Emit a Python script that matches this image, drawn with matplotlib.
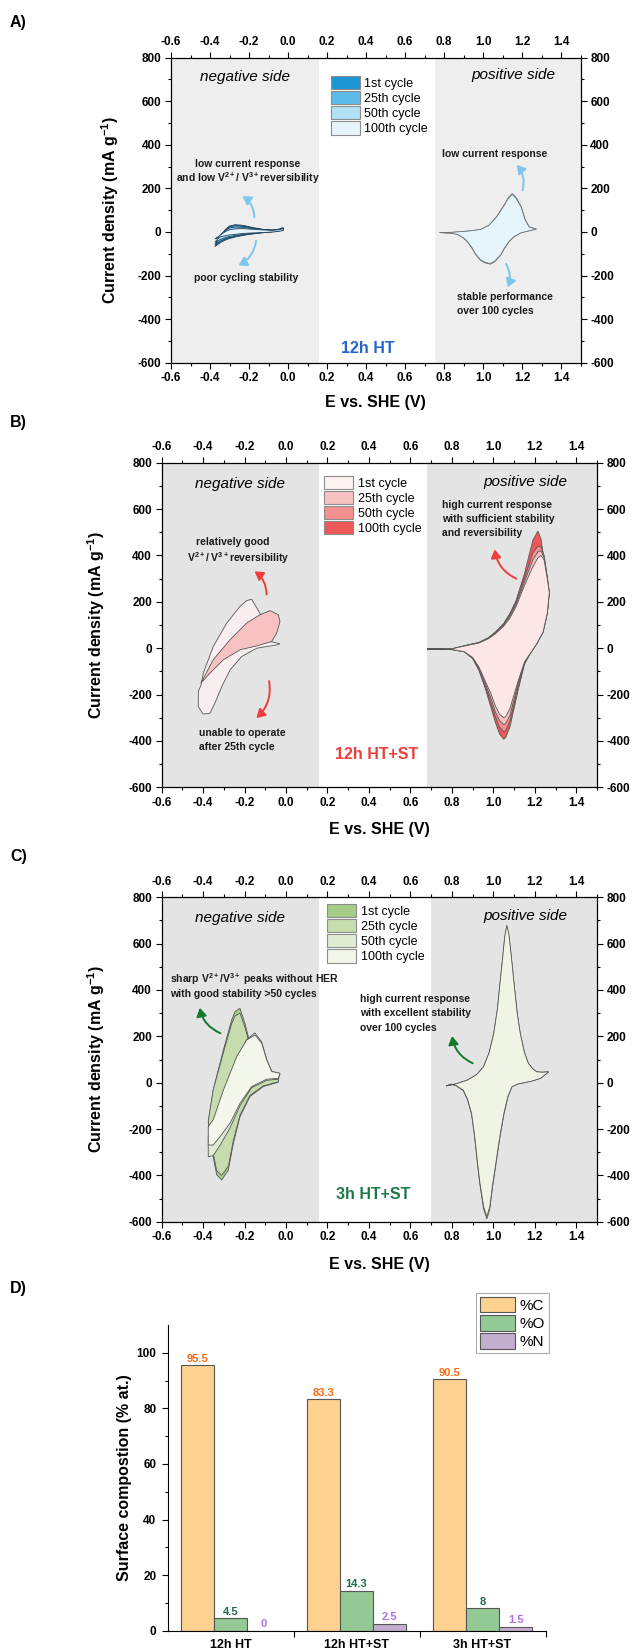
import numpy as np
import matplotlib
matplotlib.use("Agg")
import matplotlib.pyplot as plt
from matplotlib.patches import Patch, FancyArrowPatch
from matplotlib.ticker import FormatStrFormatter

plt.rcParams['font.family'] = ['Liberation Sans', 'DejaVu Sans']
plt.rcParams['font.weight'] = 'bold'
plt.rcParams['axes.labelweight'] = 'bold'
plt.rcParams['axes.unicode_minus'] = False
plt.rcParams['mathtext.fontset'] = 'custom'
plt.rcParams['mathtext.rm'] = 'Liberation Sans'
plt.rcParams['mathtext.bf'] = 'Liberation Sans:bold'
plt.rcParams['mathtext.it'] = 'Liberation Sans:italic'

# ---- data -----------------------------------------------------------
cycles = ['1st cycle', '25th cycle', '50th cycle', '100th cycle']

# A) 12h HT
a_neg_v = [-0.375, -0.36, -0.34, -0.32, -0.30, -0.27, -0.23, -0.18, -0.13, -0.08, -0.045, -0.025,
           -0.025, -0.06, -0.11, -0.16, -0.21, -0.26, -0.31, -0.345, -0.375]
a_neg_i_1 = [-67, -45, -12, 12, 27, 33, 30, 20, 12, 9, 13, 20, 10, 3, -2, -7, -13, -21, -33, -48, -67]
a_neg_i_25 = [-58, -40, -10, 10, 23, 29, 26, 18, 11, 8, 12, 18, 9, 3, -2, -6, -11, -18, -28, -42, -58]
a_neg_i_50 = [-48, -32, -8, 7, 18, 22, 21, 15, 10, 7, 11, 17, 8, 2, -2, -5, -9, -15, -23, -34, -48]
a_neg_i_100 = [-32, -24, -10, 2, 10, 14, 15, 12, 9, 7, 10, 15, 6, 1, -2, -4, -6, -10, -15, -22, -32]

a_pos_v = [0.777, 0.84, 0.90, 0.95, 0.99, 1.03, 1.07, 1.11, 1.13, 1.15, 1.17, 1.195, 1.216, 1.237, 1.274,
           1.24, 1.195, 1.16, 1.133, 1.11, 1.09, 1.06, 1.038, 1.01, 0.986, 0.96, 0.944, 0.92, 0.90,
           0.87, 0.84, 0.777]
a_pos_i_1 = [-3, -2, 2, 6, 12, 30, 70, 125, 157, 176, 157, 118, 57, 23, 13, 6, -4, -22, -45, -76, -108,
             -137, -148, -142, -130, -101, -75, -45, -28, -12, -6, -3]
a_pos_i_100 = [-3, -2, 2, 6, 12, 30, 69, 123, 154, 172, 153, 115, 55, 22, 13, 6, -4, -21, -44, -74, -106,
               -134, -145, -139, -127, -99, -73, -44, -27, -12, -6, -3]

# B) 12h HT+ST
b_neg_v_1 = [-0.029, -0.045, -0.141, -0.214, -0.27, -0.31, -0.343, -0.367, -0.40, -0.423, -0.423, -0.41,
             -0.399, -0.351, -0.286, -0.222, -0.19, -0.166, -0.126, -0.101, -0.077, -0.029]
b_neg_i_1 = [19, 14, 0, -36, -94, -166, -237, -281, -284, -252, -187, -160, -108, 7, 108, 180, 205, 211,
             151, 65, 29, 19]
b_neg_v_25 = [-0.411, -0.351, -0.27, -0.19, -0.126, -0.077, -0.037, -0.029, -0.045, -0.069, -0.141,
              -0.222, -0.302, -0.367, -0.411]
b_neg_i_25 = [-151, -50, 36, 108, 144, 162, 144, 115, 65, 29, 10, -7, -50, -108, -151]

b_pos_v = [0.68, 0.80, 0.875, 0.93, 0.975, 1.01, 1.05, 1.08, 1.11, 1.15, 1.19, 1.215, 1.23, 1.245, 1.26, 1.27,
           1.26, 1.24, 1.21, 1.18, 1.15, 1.12, 1.10, 1.08, 1.06, 1.05, 1.03, 1.01, 0.99, 0.96, 0.93, 0.90,
           0.86, 0.80, 0.74, 0.68]
b_pos_i_1 = [-4, -3, 12, 22, 40, 62, 95, 130, 180, 270, 350, 390, 400, 380, 300, 240,
             150, 70, 20, -20, -60, -140, -200, -260, -295, -300, -285, -250, -200, -140, -80, -40,
             -15, -6, -4, -4]
b_pos_i_25 = [-4, -3, 13, 23, 42, 65, 100, 138, 190, 285, 380, 415, 420, 390, 305, 240,
              150, 70, 20, -20, -62, -150, -220, -290, -325, -330, -312, -275, -220, -150, -85, -42,
              -15, -6, -4, -4]
b_pos_i_50 = [-4, -3, 13, 24, 43, 67, 103, 143, 198, 300, 410, 440, 435, 400, 310, 240,
              150, 70, 20, -20, -65, -165, -240, -315, -355, -360, -340, -295, -240, -160, -90, -43,
              -15, -6, -4, -4]
b_pos_i_100 = [-4, -3, 14, 25, 45, 70, 107, 150, 207, 321, 464, 505, 470, 380, 290, 240,
               150, 70, 20, -20, -70, -180, -260, -340, -385, -393, -370, -320, -260, -170, -95, -45,
               -15, -6, -4, -4]

# C) 3h HT+ST
c_neg_v_1 = [-0.222, -0.198, -0.182, -0.15, -0.126, -0.08, -0.037, -0.037, -0.11, -0.174, -0.222, -0.254,
             -0.278, -0.31, -0.334, -0.358, -0.375, -0.351, -0.302, -0.262, -0.246, -0.222]
c_neg_i_1 = [321, 256, 199, 90, 40, 18, 12, 2, -17, -60, -147, -262, -377, -420, -398, -290, -175, -32,
             141, 271, 306, 321]
c_neg_i_25 = [300, 240, 185, 85, 38, 17, 14, 4, -14, -55, -140, -250, -360, -400, -380, -275, -165, -30,
              130, 255, 288, 300]
c_neg_v_100 = [-0.15, -0.117, -0.093, -0.069, -0.029, -0.037, -0.093, -0.166, -0.222, -0.27, -0.318,
               -0.351, -0.375, -0.375, -0.351, -0.302, -0.238, -0.19, -0.15]
c_neg_i_50 = [215, 175, 100, 50, 38, 15, 10, -22, -100, -195, -270, -315, -320, -230, -190, -50, 105, 185, 215]
c_neg_i_100 = [206, 170, 98, 48, 41, 19, 15, -17, -89, -175, -233, -269, -269, -190, -160, -32, 112, 184, 206]

c_pos_v = [0.773, 0.82, 0.875, 0.92, 0.953, 0.98, 1.002, 1.02, 1.032, 1.045, 1.055, 1.065, 1.075, 1.085,
           1.10, 1.115, 1.13, 1.15, 1.169, 1.19, 1.208, 1.235, 1.267,
           1.228, 1.19, 1.15, 1.12, 1.09, 1.07, 1.051, 1.03, 1.012, 0.995, 0.983, 0.969, 0.953, 0.935,
           0.924, 0.91, 0.895, 0.875, 0.855, 0.82, 0.797, 0.773]
c_pos_i_1 = [-14, -5, 11, 35, 69, 130, 212, 318, 425, 535, 625, 672, 632, 555, 425, 298, 210, 130, 83, 60,
             47, 45, 47, 19, 8, 0, -5, -17, -62, -136, -245, -355, -458, -545, -588, -545, -438,
             -355, -235, -136, -72, -34, -13, -7, -14]
c_pos_i_100 = [-14, -5, 11, 35, 69, 130, 212, 320, 428, 540, 630, 680, 640, 560, 428, 300, 212, 130, 83,
               60, 47, 45, 47, 19, 8, 0, -5, -17, -60, -132, -240, -348, -450, -535, -578, -535, -430,
               -348, -230, -132, -70, -32, -12, -6, -14]

# D) surface composition
samples = ['12h HT', '12h HT+ST', '3h HT+ST']
pct_c = [95.5, 83.3, 90.5]
pct_o = [4.5, 14.3, 8]
pct_n = [0, 2.5, 1.5]

# ---- figure ---------------------------------------------------------
W, H = 638, 1652
fig = plt.figure(figsize=(W / 100, H / 100), dpi=100)


def px_rect(l, r, t, b):
    return [l / W, 1 - b / H, (r - l) / W, (b - t) / H]


def bold_ticks(ax):
    for axis in (ax.xaxis, ax.yaxis):
        for tk in axis.get_major_ticks():
            tk.label1.set_fontweight('bold')
            tk.label2.set_fontweight('bold')


def setup_cv(ax, neg_end, pos_start, shade, xlab_y, ylab_x):
    ax.set_xlim(-0.6, 1.5)
    ax.set_ylim(-600, 800)
    ax.axvspan(-0.6, neg_end, color=shade, lw=0, zorder=0)
    ax.axvspan(pos_start, 1.5, color=shade, lw=0, zorder=0)
    ax.set_xticks(np.arange(-6, 15, 2) / 10)
    ax.set_xticks(np.arange(-6, 16) / 10, minor=True)
    ax.set_yticks(np.arange(-600, 801, 200))
    ax.set_yticks(np.arange(-600, 801, 100), minor=True)
    ax.xaxis.set_major_formatter(FormatStrFormatter('%.1f'))
    ax.tick_params(which='both', direction='out', top=True, right=True,
                   labeltop=True, labelright=True, labelsize=8.5, width=0.8)
    ax.tick_params(which='major', length=4.5, pad=2.5)
    ax.tick_params(which='minor', length=2.5)
    bold_ticks(ax)
    for s in ax.spines.values():
        s.set_linewidth(0.9)
    ax.set_xlabel('E vs. SHE (V)', fontsize=11.5, fontweight='bold')
    ax.set_ylabel(r'Current density (mA g$^{\mathbf{-1}}$)', fontsize=11.5, fontweight='bold')
    ax.xaxis.set_label_coords(0.5, xlab_y)
    ax.xaxis.label.set_verticalalignment('center')
    ax.yaxis.set_label_coords(ylab_x, 0.5)
    ax.yaxis.label.set_verticalalignment('center')
    ax.text(-0.22, 710, 'negative side', style='italic', weight='normal', fontsize=11,
            ha='center', va='center')
    ax.text(1.155, 718, 'positive side', style='italic', weight='normal', fontsize=11,
            ha='center', va='center')


def loop(ax, v, i, color, edge='#555555'):
    ax.fill(v, i, facecolor=color, edgecolor=edge, linewidth=0.6, zorder=3)


def cyc_legend(ax, colors, x, y):
    handles = [Patch(facecolor=c, edgecolor='#8c8c8c', linewidth=0.8, label=l)
               for c, l in zip(colors, cycles)]
    ax.legend(handles=handles, loc='upper left', bbox_to_anchor=(x, y), frameon=False,
              prop={'size': 9, 'weight': 'normal'}, handlelength=2.3, handleheight=1.25,
              labelspacing=0.1, handletextpad=0.35, borderpad=0, borderaxespad=0)


def arrow(ax, start, end, rad, color):
    ax.add_patch(FancyArrowPatch(start, end, connectionstyle=f'arc3,rad={rad}',
                                 arrowstyle='-|>,head_length=0.5,head_width=0.3',
                                 mutation_scale=10, color=color, lw=1.4, zorder=5))


def note(ax, x, y, s, ha='center', color='#1a1a1a'):
    ax.text(x, y, s, fontsize=7.5, fontweight='bold', ha=ha, va='center', color=color, zorder=6)


# ---- panel A ----
col_a = ['#1a96d4', '#5cbbe8', '#b2e0f5', '#e6f5fc']
ax = fig.add_axes(px_rect(171, 580.5, 57.5, 362.7))
setup_cv(ax, 0.157, 0.752, '#eeeeee', -0.132, -0.149)
for ii, c in zip([a_neg_i_1, a_neg_i_25, a_neg_i_50, a_neg_i_100], col_a):
    loop(ax, a_neg_v, ii, c, edge='#1d3f5a')
loop(ax, a_pos_v, a_pos_i_1, col_a[2], edge='#707070')
loop(ax, a_pos_v, a_pos_i_100, col_a[3], edge='#707070')
cyc_legend(ax, col_a, 0.391, 0.939)
blue = '#7cc6ee'
note(ax, -0.205, 313, 'low current response')
note(ax, -0.205, 245, r'and low V$^{\mathbf{2+}}$/ V$^{\mathbf{3+}}$reversibility')
note(ax, -0.212, -211, 'poor cycling stability')
note(ax, 1.059, 357, 'low current response')
note(ax, 0.865, -298, 'stable performance', ha='left')
note(ax, 0.865, -361, 'over 100 cycles', ha='left')
arrow(ax, (-0.172, 56), (-0.246, 171), 0.3, blue)
arrow(ax, (-0.162, -28), (-0.267, -159), -0.3, blue)
arrow(ax, (1.199, 179), (1.164, 317), 0.3, blue)
arrow(ax, (1.110, -136), (1.12, -266), -0.3, blue)
ax.text(0.41, -533, '12h HT', fontsize=11.5, fontweight='bold', color='#2563d0',
        ha='center', va='center')

# ---- panel B ----
col_b = ['#fde6e6', '#f8c2c2', '#f49090', '#ee5757']
ax = fig.add_axes(px_rect(161.6, 597, 462.7, 787.3))
setup_cv(ax, 0.158, 0.678, '#e4e4e4', -0.1315, -0.1495)
loop(ax, b_neg_v_1, b_neg_i_1, '#f8eef0')
loop(ax, b_neg_v_25, b_neg_i_25, col_b[1])
for ii, c in zip([b_pos_i_100, b_pos_i_50, b_pos_i_25, b_pos_i_1], col_b[::-1]):
    loop(ax, b_pos_v, ii, c)
cyc_legend(ax, ['#fdf2f2'] + col_b[1:], 0.374, 0.959)
red = '#f03c3c'
note(ax, 0.754, 617, 'high current response', ha='left')
note(ax, 0.754, 557, 'with sufficient stability', ha='left')
note(ax, 0.754, 495, 'and reversibility', ha='left')
note(ax, -0.255, 456, 'relatively good')
note(ax, -0.232, 388, r'V$^{\mathbf{2+}}$/ V$^{\mathbf{3+}}$reversibility')
note(ax, -0.422, -364, 'unable to operate', ha='left')
note(ax, -0.422, -425, 'after 25th cycle', ha='left')
arrow(ax, (-0.094, 220), (-0.163, 338), 0.3, red)
arrow(ax, (-0.084, -130), (-0.153, -309), -0.3, red)
arrow(ax, (1.123, 295), (1.005, 438), -0.3, red)
ax.text(0.436, -460, '12h HT+ST', fontsize=11.5, fontweight='bold', color='#f03c3c',
        ha='center', va='center')

# ---- panel C ----
col_c = ['#a5cd88', '#c5ddae', '#dfecd2', '#f3f6ea']
ax = fig.add_axes(px_rect(161.6, 597, 897.3, 1221.7))
setup_cv(ax, 0.16, 0.697, '#e4e4e4', -0.131, -0.1495)
loop(ax, c_neg_v_1, c_neg_i_1, col_c[0])
loop(ax, c_neg_v_1, c_neg_i_25, col_c[1])
loop(ax, c_neg_v_100, c_neg_i_50, col_c[2])
loop(ax, c_neg_v_100, c_neg_i_100, col_c[3])
loop(ax, c_pos_v, c_pos_i_1, col_c[1])
loop(ax, c_pos_v, c_pos_i_100, '#f0f4e4')
cyc_legend(ax, col_c, 0.381, 0.979)
green = '#117a2c'
note(ax, -0.559, 446, r'sharp V$^{\mathbf{2+}}$/V$^{\mathbf{3+}}$ peaks without HER', ha='left')
note(ax, -0.559, 383, 'with good stability >50 cycles', ha='left')
note(ax, 0.358, 361, 'high current response', ha='left')
note(ax, 0.358, 299, 'with excellent stability', ha='left')
note(ax, 0.358, 236, 'over 100 cycles', ha='left')
arrow(ax, (-0.304, 209), (-0.418, 335), -0.3, green)
arrow(ax, (0.913, 79), (0.799, 213), -0.3, green)
ax.text(0.422, -482, '3h HT+ST', fontsize=11.5, fontweight='bold', color='#1c7a48',
        ha='center', va='center')

# ---- panel D ----
ax = fig.add_axes(px_rect(167.6, 545.5, 1325, 1630.7))
x = np.arange(len(samples))
w = 0.264
bar_sets = [(pct_c, -w, '#fdd18f', '#ff6a10', '%C'),
            (pct_o, 0, '#93c994', '#1d6b47', '%O'),
            (pct_n, w, '#c3aed0', '#b36ee0', '%N')]
for vals, off, fc, tc, lab in bar_sets:
    ax.bar(x + off, vals, width=w, color=fc, edgecolor='#555555', linewidth=0.8, label=lab)
    for xi, v in zip(x + off, vals):
        ax.text(xi, v + 0.6, f'{v:g}', color=tc, fontsize=8, fontweight='bold',
                ha='center', va='bottom')
ax.set_xlim(-0.5, 2.5)
ax.set_ylim(0, 110)
ax.spines['top'].set_visible(False)
ax.spines['right'].set_visible(False)
ax.set_xticks(x, samples)
ax.set_xticks([0.5, 1.5, 2.5], minor=True)
ax.tick_params(axis='x', which='major', length=0, labelsize=9, pad=6)
ax.tick_params(axis='x', which='minor', length=4, direction='out', width=0.8)
ax.set_yticks(np.arange(0, 101, 20))
ax.set_yticks(np.arange(10, 101, 20), minor=True)
ax.tick_params(axis='y', which='major', length=4.5, labelsize=8.5, width=0.8)
ax.tick_params(axis='y', which='minor', length=2.5, width=0.8)
bold_ticks(ax)
ax.set_ylabel('Surface compostion (% at.)', fontsize=11.5, fontweight='bold')
ax.yaxis.set_label_coords(-0.115, 0.5)
ax.yaxis.label.set_verticalalignment('center')
leg = ax.legend(loc='upper right', bbox_to_anchor=(1.008, 1.105), fancybox=False,
                prop={'size': 11, 'weight': 'normal'}, handlelength=2.3, handleheight=1.2,
                labelspacing=0.15, handletextpad=0.3, borderpad=0.25, borderaxespad=0)
leg.get_frame().set_edgecolor('#999999')
leg.get_frame().set_linewidth(0.8)

for lab, yy in zip(['A)', 'B)', 'C)', 'D)'], [22, 423, 857, 1288]):
    fig.text(10 / W, 1 - yy / H, lab, fontsize=11.5, fontweight='bold', ha='left', va='center')

fig.savefig('out.png', dpi=100)
